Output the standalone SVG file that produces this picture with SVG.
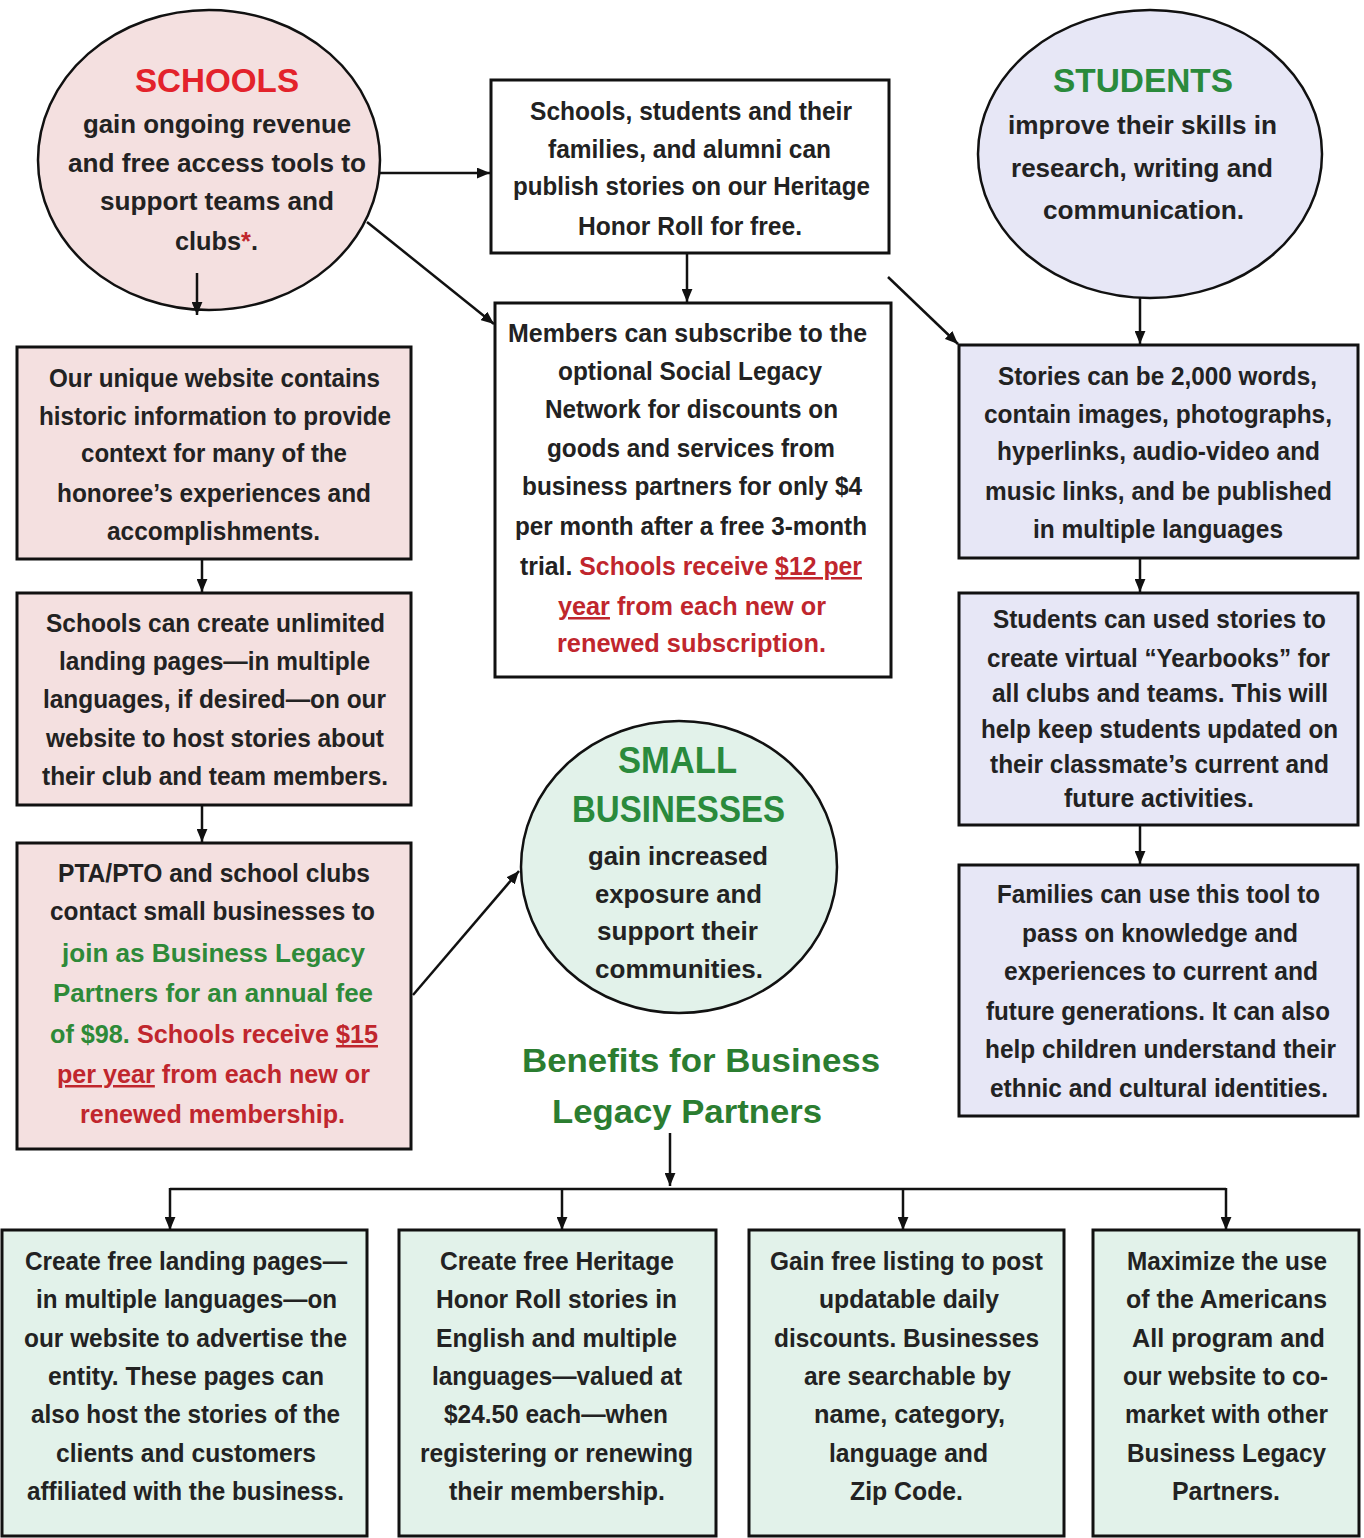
<svg xmlns="http://www.w3.org/2000/svg" width="1364" height="1538" viewBox="0 0 1364 1538">
<style>
.bg{fill:#ffffff}
.box{stroke:#111;stroke-width:3}
.ell{stroke:#111;stroke-width:2.5}
.pink{fill:#f4e0e0}
.lav{fill:#e7e7f6}
.mint{fill:#e2f2ea}
.white{fill:#ffffff}
.t{font-family:"Liberation Sans",Arial,sans-serif;font-weight:bold;font-size:25px;fill:#222}
.h{font-family:"Liberation Sans",Arial,sans-serif;font-weight:bold;font-size:34px}
.red{fill:#c0262d}
.tred{fill:#e3222b}
.grn{fill:#2e8a38}
.tgrn{fill:#2a8a3c}
.u{text-decoration:underline}
.c{stroke:#111;stroke-width:2.5;fill:none}
</style>
<defs>
<marker id="ah" viewBox="0 0 12 10" refX="12" refY="5" markerWidth="13" markerHeight="11" orient="auto" markerUnits="userSpaceOnUse">
<path d="M0,0 L12,5 L0,10 z" fill="#111"/>
</marker>
</defs>
<rect class="bg" x="0" y="0" width="1364" height="1538"/>

<g id="schools">
<ellipse class="ell pink" cx="209" cy="160" rx="171" ry="150"/>
<text class="h tred" x="135" y="92" textLength="164" lengthAdjust="spacingAndGlyphs">SCHOOLS</text>
<text class="t" x="83" y="133" textLength="268" lengthAdjust="spacingAndGlyphs">gain ongoing revenue</text>
<text class="t" x="68" y="172" textLength="298" lengthAdjust="spacingAndGlyphs">and free access tools to</text>
<text class="t" x="100" y="210" textLength="234" lengthAdjust="spacingAndGlyphs">support teams and</text>
<text class="t" x="175" y="250" textLength="83" lengthAdjust="spacingAndGlyphs">clubs<tspan class="red">*</tspan>.</text>
</g>

<g id="publish">
<rect class="box white" x="491" y="80" width="398" height="173"/>
<text class="t" x="530" y="120" textLength="322" lengthAdjust="spacingAndGlyphs">Schools, students and their</text>
<text class="t" x="548" y="158" textLength="283" lengthAdjust="spacingAndGlyphs">families, and alumni can</text>
<text class="t" x="513" y="195" textLength="357" lengthAdjust="spacingAndGlyphs">publish stories on our Heritage</text>
<text class="t" x="578" y="235" textLength="224" lengthAdjust="spacingAndGlyphs">Honor Roll for free.</text>
</g>

<g id="students">
<ellipse class="ell lav" cx="1150" cy="154" rx="172" ry="144"/>
<text class="h tgrn" x="1053" y="92" textLength="180" lengthAdjust="spacingAndGlyphs">STUDENTS</text>
<text class="t" x="1008" y="134" textLength="269" lengthAdjust="spacingAndGlyphs">improve their skills in</text>
<text class="t" x="1011" y="177" textLength="262" lengthAdjust="spacingAndGlyphs">research, writing and</text>
<text class="t" x="1043" y="219" textLength="201" lengthAdjust="spacingAndGlyphs">communication.</text>
</g>

<g id="members">
<rect class="box white" x="495" y="303" width="396" height="374"/>
<text class="t" x="508" y="342" textLength="359" lengthAdjust="spacingAndGlyphs">Members can subscribe to the</text>
<text class="t" x="558" y="380" textLength="264" lengthAdjust="spacingAndGlyphs">optional Social Legacy</text>
<text class="t" x="545" y="418" textLength="293" lengthAdjust="spacingAndGlyphs">Network for discounts on</text>
<text class="t" x="547" y="457" textLength="288" lengthAdjust="spacingAndGlyphs">goods and services from</text>
<text class="t" x="522" y="495" textLength="340" lengthAdjust="spacingAndGlyphs">business partners for only $4</text>
<text class="t" x="515" y="535" textLength="352" lengthAdjust="spacingAndGlyphs">per month after a free 3-month</text>
<text class="t" x="520" y="575" textLength="342" lengthAdjust="spacingAndGlyphs">trial. <tspan class="red">Schools receive </tspan><tspan class="red u">$12 per</tspan></text>
<text class="t red" x="558" y="615" textLength="268" lengthAdjust="spacingAndGlyphs"><tspan class="u">year</tspan> from each new or</text>
<text class="t red" x="557" y="652" textLength="269" lengthAdjust="spacingAndGlyphs">renewed subscription.</text>
</g>

<g id="website">
<rect class="box pink" x="17" y="347" width="394" height="212"/>
<text class="t" x="49" y="387" textLength="331" lengthAdjust="spacingAndGlyphs">Our unique website contains</text>
<text class="t" x="39" y="425" textLength="352" lengthAdjust="spacingAndGlyphs">historic information to provide</text>
<text class="t" x="81" y="462" textLength="266" lengthAdjust="spacingAndGlyphs">context for many of the</text>
<text class="t" x="57" y="502" textLength="314" lengthAdjust="spacingAndGlyphs">honoree’s experiences and</text>
<text class="t" x="107" y="540" textLength="213" lengthAdjust="spacingAndGlyphs">accomplishments.</text>
</g>

<g id="landing">
<rect class="box pink" x="17" y="593" width="394" height="212"/>
<text class="t" x="46" y="632" textLength="339" lengthAdjust="spacingAndGlyphs">Schools can create unlimited</text>
<text class="t" x="59" y="670" textLength="311" lengthAdjust="spacingAndGlyphs">landing pages—in multiple</text>
<text class="t" x="43" y="708" textLength="343" lengthAdjust="spacingAndGlyphs">languages, if desired—on our</text>
<text class="t" x="46" y="747" textLength="338" lengthAdjust="spacingAndGlyphs">website to host stories about</text>
<text class="t" x="42" y="785" textLength="346" lengthAdjust="spacingAndGlyphs">their club and team members.</text>
</g>

<g id="pta">
<rect class="box pink" x="17" y="843" width="394" height="306"/>
<text class="t" x="58" y="882" textLength="312" lengthAdjust="spacingAndGlyphs">PTA/PTO and school clubs</text>
<text class="t" x="50" y="920" textLength="325" lengthAdjust="spacingAndGlyphs">contact small businesses to</text>
<text class="t grn" x="62" y="962" textLength="303" lengthAdjust="spacingAndGlyphs">join as Business Legacy</text>
<text class="t grn" x="53" y="1002" textLength="320" lengthAdjust="spacingAndGlyphs">Partners for an annual fee</text>
<text class="t" x="50" y="1043" textLength="328" lengthAdjust="spacingAndGlyphs"><tspan class="grn">of $98.</tspan><tspan class="red"> Schools receive </tspan><tspan class="red u">$15</tspan></text>
<text class="t red" x="57" y="1083" textLength="313" lengthAdjust="spacingAndGlyphs"><tspan class="u">per year</tspan> from each new or</text>
<text class="t red" x="80" y="1123" textLength="265" lengthAdjust="spacingAndGlyphs">renewed membership.</text>
</g>

<g id="stories">
<rect class="box lav" x="959" y="345" width="399" height="213"/>
<text class="t" x="998" y="385" textLength="319" lengthAdjust="spacingAndGlyphs">Stories can be 2,000 words,</text>
<text class="t" x="984" y="423" textLength="348" lengthAdjust="spacingAndGlyphs">contain images, photographs,</text>
<text class="t" x="997" y="460" textLength="323" lengthAdjust="spacingAndGlyphs">hyperlinks, audio-video and</text>
<text class="t" x="985" y="500" textLength="347" lengthAdjust="spacingAndGlyphs">music links, and be published</text>
<text class="t" x="1033" y="538" textLength="250" lengthAdjust="spacingAndGlyphs">in multiple languages</text>
</g>

<g id="yearbooks">
<rect class="box lav" x="959" y="593" width="399" height="232"/>
<text class="t" x="993" y="628" textLength="333" lengthAdjust="spacingAndGlyphs">Students can used stories to</text>
<text class="t" x="987" y="667" textLength="343" lengthAdjust="spacingAndGlyphs">create virtual “Yearbooks” for</text>
<text class="t" x="992" y="702" textLength="336" lengthAdjust="spacingAndGlyphs">all clubs and teams. This will</text>
<text class="t" x="981" y="738" textLength="357" lengthAdjust="spacingAndGlyphs">help keep students updated on</text>
<text class="t" x="990" y="773" textLength="339" lengthAdjust="spacingAndGlyphs">their classmate’s current and</text>
<text class="t" x="1064" y="807" textLength="190" lengthAdjust="spacingAndGlyphs">future activities.</text>
</g>

<g id="families">
<rect class="box lav" x="959" y="865" width="399" height="251"/>
<text class="t" x="997" y="903" textLength="323" lengthAdjust="spacingAndGlyphs">Families can use this tool to</text>
<text class="t" x="1022" y="942" textLength="276" lengthAdjust="spacingAndGlyphs">pass on knowledge and</text>
<text class="t" x="1004" y="980" textLength="314" lengthAdjust="spacingAndGlyphs">experiences to current and</text>
<text class="t" x="986" y="1020" textLength="344" lengthAdjust="spacingAndGlyphs">future generations. It can also</text>
<text class="t" x="985" y="1058" textLength="351" lengthAdjust="spacingAndGlyphs">help children understand their</text>
<text class="t" x="990" y="1097" textLength="338" lengthAdjust="spacingAndGlyphs">ethnic and cultural identities.</text>
</g>

<g id="small-businesses">
<ellipse class="ell mint" cx="679" cy="867" rx="158" ry="146"/>
<text class="h tgrn" x="618" y="773" textLength="119" lengthAdjust="spacingAndGlyphs" style="font-size:37px">SMALL</text>
<text class="h tgrn" x="572" y="822" textLength="213" lengthAdjust="spacingAndGlyphs" style="font-size:37px">BUSINESSES</text>
<text class="t" x="588" y="865" textLength="180" lengthAdjust="spacingAndGlyphs">gain increased</text>
<text class="t" x="595" y="903" textLength="167" lengthAdjust="spacingAndGlyphs">exposure  and</text>
<text class="t" x="597" y="940" textLength="161" lengthAdjust="spacingAndGlyphs">support their</text>
<text class="t" x="595" y="978" textLength="168" lengthAdjust="spacingAndGlyphs">communities.</text>
</g>

<g id="benefits-title">
<text class="h" x="522" y="1072" textLength="358" lengthAdjust="spacingAndGlyphs" style="fill:#2b7d30">Benefits for Business</text>
<text class="h" x="552" y="1123" textLength="270" lengthAdjust="spacingAndGlyphs" style="fill:#2b7d30">Legacy Partners</text>
</g>

<g id="benefit-landing">
<rect class="box mint" x="2" y="1230" width="365" height="306"/>
<text class="t" x="25" y="1270" textLength="322" lengthAdjust="spacingAndGlyphs">Create free landing pages—</text>
<text class="t" x="36" y="1308" textLength="301" lengthAdjust="spacingAndGlyphs">in multiple languages—on</text>
<text class="t" x="24" y="1347" textLength="323" lengthAdjust="spacingAndGlyphs">our website to advertise the</text>
<text class="t" x="48" y="1385" textLength="276" lengthAdjust="spacingAndGlyphs">entity. These pages can</text>
<text class="t" x="31" y="1423" textLength="309" lengthAdjust="spacingAndGlyphs">also host the stories of the</text>
<text class="t" x="56" y="1462" textLength="260" lengthAdjust="spacingAndGlyphs">clients and customers</text>
<text class="t" x="27" y="1500" textLength="317" lengthAdjust="spacingAndGlyphs">affiliated with the business.</text>
</g>

<g id="benefit-stories">
<rect class="box mint" x="399" y="1230" width="317" height="306"/>
<text class="t" x="440" y="1270" textLength="234" lengthAdjust="spacingAndGlyphs">Create free Heritage</text>
<text class="t" x="436" y="1308" textLength="241" lengthAdjust="spacingAndGlyphs">Honor Roll stories in</text>
<text class="t" x="436" y="1347" textLength="241" lengthAdjust="spacingAndGlyphs">English and multiple</text>
<text class="t" x="432" y="1385" textLength="250" lengthAdjust="spacingAndGlyphs">languages—valued at</text>
<text class="t" x="444" y="1423" textLength="224" lengthAdjust="spacingAndGlyphs">$24.50 each—when</text>
<text class="t" x="420" y="1462" textLength="273" lengthAdjust="spacingAndGlyphs">registering or renewing</text>
<text class="t" x="449" y="1500" textLength="216" lengthAdjust="spacingAndGlyphs">their membership.</text>
</g>

<g id="benefit-listing">
<rect class="box mint" x="749" y="1230" width="315" height="306"/>
<text class="t" x="770" y="1270" textLength="273" lengthAdjust="spacingAndGlyphs">Gain free listing to post</text>
<text class="t" x="819" y="1308" textLength="180" lengthAdjust="spacingAndGlyphs">updatable daily</text>
<text class="t" x="774" y="1347" textLength="265" lengthAdjust="spacingAndGlyphs">discounts. Businesses</text>
<text class="t" x="804" y="1385" textLength="207" lengthAdjust="spacingAndGlyphs">are searchable by</text>
<text class="t" x="814" y="1423" textLength="191" lengthAdjust="spacingAndGlyphs">name, category,</text>
<text class="t" x="829" y="1462" textLength="159" lengthAdjust="spacingAndGlyphs">language and</text>
<text class="t" x="850" y="1500" textLength="113" lengthAdjust="spacingAndGlyphs">Zip Code.</text>
</g>

<g id="benefit-comarket">
<rect class="box mint" x="1093" y="1230" width="266" height="306"/>
<text class="t" x="1127" y="1270" textLength="200" lengthAdjust="spacingAndGlyphs">Maximize the use</text>
<text class="t" x="1126" y="1308" textLength="201" lengthAdjust="spacingAndGlyphs">of the Americans</text>
<text class="t" x="1132" y="1347" textLength="193" lengthAdjust="spacingAndGlyphs">All program and</text>
<text class="t" x="1123" y="1385" textLength="205" lengthAdjust="spacingAndGlyphs">our website to co-</text>
<text class="t" x="1125" y="1423" textLength="203" lengthAdjust="spacingAndGlyphs">market with other</text>
<text class="t" x="1127" y="1462" textLength="199" lengthAdjust="spacingAndGlyphs">Business Legacy</text>
<text class="t" x="1172" y="1500" textLength="108" lengthAdjust="spacingAndGlyphs">Partners.</text>
</g>

<g id="connectors">
<line class="c" x1="380" y1="173" x2="490" y2="173" marker-end="url(#ah)"/>
<line class="c" x1="367" y1="222" x2="494" y2="324" marker-end="url(#ah)"/>
<line class="c" x1="197" y1="273" x2="197" y2="315" marker-end="url(#ah)"/>
<line class="c" x1="687" y1="253" x2="687" y2="302" marker-end="url(#ah)"/>
<line class="c" x1="888" y1="277" x2="958" y2="344" marker-end="url(#ah)"/>
<line class="c" x1="1140" y1="298" x2="1140" y2="344" marker-end="url(#ah)"/>
<line class="c" x1="202" y1="559" x2="202" y2="592" marker-end="url(#ah)"/>
<line class="c" x1="202" y1="805" x2="202" y2="842" marker-end="url(#ah)"/>
<line class="c" x1="1140" y1="558" x2="1140" y2="592" marker-end="url(#ah)"/>
<line class="c" x1="1140" y1="825" x2="1140" y2="864" marker-end="url(#ah)"/>
<line class="c" x1="413" y1="995" x2="519" y2="871" marker-end="url(#ah)"/>
<line class="c" x1="670" y1="1133" x2="670" y2="1186" marker-end="url(#ah)"/>
<line class="c" x1="170" y1="1189" x2="1226" y2="1189"/>
<line class="c" x1="170" y1="1188" x2="170" y2="1230" marker-end="url(#ah)"/>
<line class="c" x1="562" y1="1189" x2="562" y2="1230" marker-end="url(#ah)"/>
<line class="c" x1="903" y1="1189" x2="903" y2="1230" marker-end="url(#ah)"/>
<line class="c" x1="1226" y1="1188" x2="1226" y2="1230" marker-end="url(#ah)"/>
</g>
</svg>
